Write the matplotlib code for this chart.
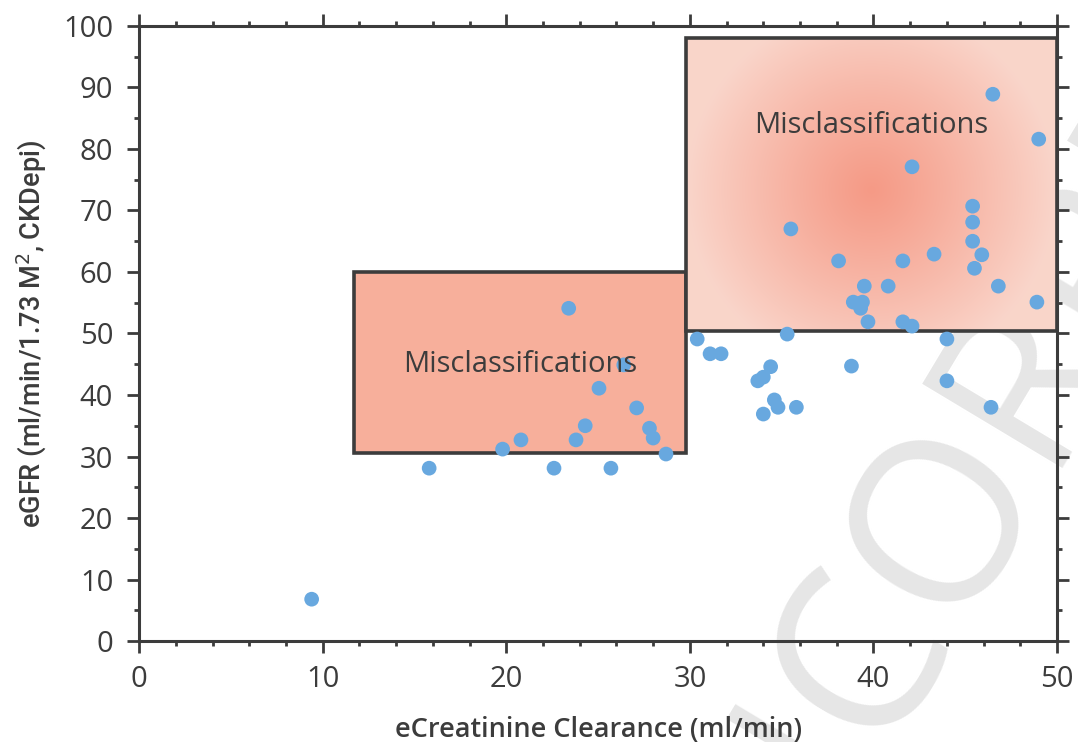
####### IMPORT PACKAGES #######

import matplotlib
matplotlib.use('Agg')
import matplotlib.pyplot as plt
from matplotlib.patches import Rectangle
import numpy as np


####### DATA #######

# eCreatinine clearance (ml/min)
crcl = [9.4, 15.8, 19.8, 20.8, 22.6, 23.4, 23.8, 24.3, 25.05, 25.7, 26.4, 27.1, 27.8, 28.0, 28.7,
        30.4, 31.1, 31.7, 33.7, 34.0, 34.4, 34.6, 34.8, 34.0, 35.8, 35.3, 38.8, 44.0, 44.0, 46.4,
        46.5, 49.0, 42.1, 35.5, 45.4, 45.4, 45.4, 45.9, 43.3, 38.1, 41.6, 45.5, 39.5, 40.8, 46.8,
        38.9, 39.4, 39.3, 48.9, 39.7, 41.6, 42.1]

# eGFR (ml/min/1.73 m2, CKDepi)
egfr = [6.8, 28.1, 31.2, 32.7, 28.1, 54.1, 32.7, 35.0, 41.1, 28.1, 44.9, 37.9, 34.6, 33.0, 30.4,
        49.1, 46.7, 46.7, 42.3, 42.9, 44.6, 39.2, 38.0, 36.9, 38.0, 49.9, 44.7, 49.1, 42.3, 38.0,
        88.9, 81.6, 77.1, 67.0, 70.7, 68.1, 65.0, 62.8, 62.9, 61.8, 61.8, 60.6, 57.7, 57.7, 57.7,
        55.1, 55.1, 54.1, 55.1, 51.9, 51.9, 51.2]

# misclassification zones: (x0, x1, y0, y1)
zone_low = (11.7, 29.8, 30.6, 60.0)
zone_high = (29.8, 50.0, 50.4, 98.0)
zone_label = 'Misclassifications'


####### STYLE #######

dark = '#3c3c3c'
dot_color = '#68a8df'
fill_low = '#f7af9b'
grad_center = np.array([245, 154, 134]) / 255
grad_edge = np.array([250, 213, 202]) / 255

plt.rcParams['font.family'] = ['Open Sans', 'DejaVu Sans']


####### THE PLOT #######

fig = plt.figure(figsize=(10.78, 7.42), dpi=100)
ax = fig.add_axes([0.129, 0.1361, 0.8516, 0.8289])
ax.set_facecolor('none')

# watermark behind everything
fig.text(0.815, -0.012, 'CORRECTED', rotation=59, rotation_mode='anchor',
         ha='left', va='baseline', fontsize=165, color='#e6e6e6', zorder=-5)
fig.text(0.815, -0.012, 'UN', rotation=59, rotation_mode='anchor',
         ha='right', va='baseline', fontsize=165, color='#e6e6e6', zorder=-5)

ax.set_xlim(0, 50)
ax.set_ylim(0, 100)

# lower zone
x0, x1, y0, y1 = zone_low
ax.add_patch(Rectangle((x0, y0), x1 - x0, y1 - y0, facecolor=fill_low,
                       edgecolor=dark, linewidth=2.6, zorder=1))
ax.text((x0 + x1) / 2, 45.0, zone_label, ha='center', va='center',
        fontsize=21, color=dark, zorder=5)

# upper zone with radial shading
x0, x1, y0, y1 = zone_high
nx, ny = 371, 293
gx, gy = np.meshgrid(np.linspace(x0, x1, nx), np.linspace(y0, y1, ny))
cx, cy = 39.9, 73.3
r = np.hypot((gx - cx) * 18.36, (gy - cy) * 6.15) / 185.0
t = np.clip(r, 0, 1) ** 1.1
img = grad_center[None, None, :] * (1 - t[..., None]) + grad_edge[None, None, :] * t[..., None]
ax.imshow(img, extent=(x0, x1, y0, y1), origin='lower', aspect='auto',
          interpolation='bilinear', zorder=1)
ax.add_patch(Rectangle((x0, y0), x1 - x0, y1 - y0, facecolor='none',
                       edgecolor=dark, linewidth=2.6, zorder=2, clip_on=False))
ax.text((x0 + x1) / 2, 83.8, zone_label, ha='center', va='center',
        fontsize=21, color=dark, zorder=5)

ax.scatter(crcl, egfr, s=112, color=dot_color, edgecolors='none', zorder=4)

# axes cosmetics
for side in ['left', 'right', 'top', 'bottom']:
    ax.spines[side].set_color(dark)
    ax.spines[side].set_linewidth(2.2)

ax.set_xticks(np.arange(0, 51, 10))
ax.set_xticks(np.arange(0, 51, 2), minor=True)
ax.set_yticks(np.arange(0, 101, 10))
ax.set_yticks(np.arange(0, 101, 5), minor=True)

ax.tick_params(which='both', direction='out', top=True, right=True, color=dark,
               width=2.0, labelcolor=dark)
ax.tick_params(which='major', length=8.6, labelsize=21)
ax.tick_params(axis='x', which='major', pad=9)
ax.tick_params(axis='y', which='major', pad=10)
ax.tick_params(which='minor', length=3.6)

ax.set_xlabel('eCreatinine Clearance (ml/min)', fontsize=19.5, color=dark, weight='semibold')
ax.xaxis.set_label_coords(0.5, -0.122)
ax.set_ylabel('eGFR (ml/min/1.73 M$^2$, CKDepi)', fontsize=19.5, color=dark,
              family=['Roboto', 'DejaVu Sans'], weight='medium')
ax.yaxis.set_label_coords(-0.098, 0.5)

plt.savefig('out.png', dpi=100)
